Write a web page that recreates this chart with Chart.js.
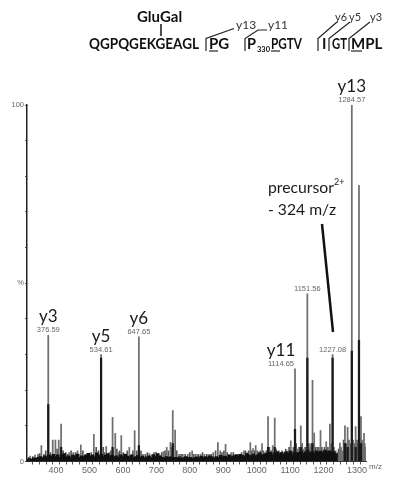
<!DOCTYPE html>
<html>
<head>
<meta charset="utf-8">
<script src="https://cdn.jsdelivr.net/npm/chart.js@4.4.1/dist/chart.umd.min.js"></script>
<style>
  html, body { margin: 0; padding: 0; background: #fff; }
  #wrap { position: relative; width: 393px; height: 478px; }
</style>
</head>
<body>
<div id="wrap"><canvas id="ms"></canvas></div>
<script>
// MS/MS fragment spectrum of the GluGal-modified peptide (relative intensity, %)
const peakMz = [322, 337, 346, 356, 364, 376.59, 390, 398, 408, 415, 429, 439, 451, 464, 474, 496, 513,
  534.61, 550, 559, 569, 577, 586, 595, 607, 619, 635, 647.65, 660, 679, 699, 712, 721, 731, 742, 749,
  756, 768, 779, 794, 807, 818, 832, 844, 858, 870, 884, 891, 907, 917, 924, 938, 949, 962, 971, 981,
  989, 997, 1007, 1016, 1025, 1034, 1041, 1048, 1054, 1061, 1071, 1082, 1092, 1102, 1107, 1114.65,
  1122, 1132, 1140, 1151.56, 1160, 1167, 1172, 1182, 1191, 1199, 1208, 1219, 1227.08, 1236, 1242,
  1249, 1256, 1264, 1272, 1279, 1284.57, 1290, 1296, 1306, 1312, 1317, 1321, 1325];
const peakIntensity = [1.5, 1.8, 2.0, 4.5, 2.0, 35.4, 6.0, 6.0, 6.0, 10.5, 2.5, 2.5, 2.5, 3.0, 4.7, 2.0, 7.6,
  30.0, 4.2, 2.5, 12.4, 7.9, 2.5, 7.3, 2.0, 4.0, 8.7, 35.0, 2.0, 2.2, 2.6, 1.8, 2.8, 4.0, 5.4, 14.3,
  8.8, 2.0, 2.0, 2.0, 3.0, 2.0, 2.0, 2.0, 2.0, 2.5, 5.3, 3.0, 4.8, 2.0, 2.5, 2.0, 2.0, 3.0, 2.5, 5.3,
  3.6, 4.5, 2.5, 5.0, 2.5, 12.6, 3.0, 4.5, 12.2, 2.5, 2.5, 2.5, 3.0, 5.8, 3.0, 26.0,
  3.5, 10.0, 3.5, 47.0, 4.0, 22.8, 8.0, 4.0, 8.7, 3.0, 5.5, 10.5, 30.0, 3.0, 2.5,
  5.2, 3.0, 10.0, 9.6, 4.0, 100.0, 4.0, 9.8, 77.5, 12.6, 5.0, 7.9, 4.0];

// weaker fragment and background signals
const minorMz = [318, 330, 351, 369, 383, 403, 421, 434, 445, 458, 468, 480, 487, 505, 520, 527, 541, 545,
  564, 582, 590, 601, 613, 626, 630, 641, 654, 667, 673, 688, 693, 705, 716, 726, 736, 746, 761, 774,
  786, 800, 812, 825, 838, 851, 864, 877, 896, 902, 912, 930, 944, 955, 966, 976, 985, 993, 1002, 1011,
  1020, 1029, 1038, 1044, 1058, 1066, 1076, 1087, 1097, 1110, 1118, 1127, 1136, 1145, 1156, 1163, 1177,
  1186, 1195, 1203, 1213, 1223, 1231, 1245, 1252, 1260, 1268, 1276, 1282, 1288, 1293, 1300, 1303, 1309,
  1315, 1319, 1323];
const minorIntensity = [1.2, 1.4, 2.2, 3.0, 2.5, 3.5, 3.0, 2.0, 3.0, 2.5, 2.0, 3.0, 2.0, 2.5, 4.0, 3.0, 4.0, 2.5,
  3.0, 3.5, 3.0, 2.5, 3.0, 2.0, 3.0, 3.0, 3.0, 2.0, 2.5, 2.0, 2.5, 2.0, 2.5, 3.0, 3.0, 4.0, 3.0, 2.0,
  2.0, 2.5, 2.0, 2.0, 2.5, 2.0, 2.0, 3.0, 2.5, 3.0, 2.5, 2.5, 2.0, 2.5, 3.0, 3.0, 3.0, 3.0, 3.0, 3.0,
  3.0, 3.0, 4.0, 3.0, 3.5, 3.0, 3.0, 3.5, 4.0, 4.0, 5.0, 4.0, 5.0, 4.0, 5.0, 5.0, 4.0,
  4.0, 4.0, 4.0, 4.0, 5.0, 4.0, 3.5, 4.0, 6.0, 5.0, 6.0, 5.0, 6.0, 5.0, 6.0, 5.0, 7.0,
  6.0, 5.0, 5.0];

// dense centroid cores of the strongest peaks
const coreMz = [376.59, 415, 534.61, 569, 647.65, 749, 1034, 1054, 1114.65, 1132, 1151.56, 1167,
  1227.08, 1264, 1272, 1284.57, 1296, 1306, 1312];
const coreIntensity = [16, 4, 29, 4, 4.5, 5, 4, 4, 9, 4, 29, 5, 29, 5, 4, 31, 4, 34, 5];

// chemical noise along the baseline, one reading every 6.5 m/z from 314
const noiseStart = 314;
const noiseStep = 6.5;
const noiseLevel = [0.6, 0.8, 0.7, 1.0, 0.9, 1.2, 1.4, 1.1, 1.6, 1.3, 1.8, 1.5, 2.0,
  1.4, 1.9, 1.2, 1.7, 2.2, 1.3, 1.6, 1.1, 1.8, 1.5, 2.1, 1.2, 1.6, 1.4,
  1.7, 2.3, 1.5, 1.9, 1.3, 2.4, 1.6, 2.0, 1.4, 1.8, 2.2, 1.5, 1.7, 1.3,
  1.6, 1.2, 1.9, 1.4, 2.1, 1.5, 1.3, 1.8, 1.1, 1.4, 1.7, 1.2, 1.5, 1.0,
  1.3, 1.6, 1.1, 1.9, 1.4, 2.2, 1.5, 1.2, 1.0, 1.4, 1.1, 1.3, 0.9, 1.2,
  1.0, 1.3, 0.9, 1.1, 1.4, 1.0, 1.2, 0.8, 1.1, 1.3, 1.0, 1.5, 1.2, 1.4,
  1.1, 1.6, 1.3, 1.0, 1.4, 1.2, 1.7, 1.3, 1.5, 1.1, 1.8, 1.4, 1.6, 1.9,
  1.5, 2.0, 1.7, 1.4, 2.2, 1.8, 1.5, 2.1, 1.6, 1.9, 2.4, 1.7, 2.0, 2.3,
  2.1, 2.6, 1.9, 2.4, 2.8, 2.2, 2.5, 2.0, 2.7, 2.3, 2.9, 2.1, 2.6, 2.4,
  2.5, 2.9, 2.2, 2.7, 3.1, 2.4, 2.8, 2.3, 3.0, 2.6, 2.9, 2.5, 3.2, 2.7, 3.0, 2.4, 2.8, 2.2];

// annotated fragment ions
const labelMz = [376.59, 534.61, 647.65, 1114.65, 1151.56, 1227.08, 1284.57];
const labelIon = ['y3', 'y5', 'y6', 'y11', '', '', 'y13'];
const labelShift = [0, 0, 0, -14, 0, 0, 0];

// axis tick labels
const xTickLabels = [400, 500, 600, 700, 800, 900, 1000, 1100, 1200, 1300];
const yTickLabels = { 0: '0', 50: '%', 100: '100' };

const toPoints = (xs, ys) => xs.map((x, i) => ({ x: x, y: ys[i] }));
const noisePoints = noiseLevel.map((v, i) => ({ x: noiseStart + i * noiseStep, y: v }));

const SANS = '"Liberation Sans", Arial, sans-serif';
const HUMAN = 'Lato, "Open Sans", sans-serif';

const annotations = {
  id: 'annotations',
  afterDraw(chart) {
    const ctx = chart.ctx;
    const xs = chart.scales.x, ys = chart.scales.y;
    ctx.save();

    // peak labels: ion name above the m/z value
    labelMz.forEach((mz, i) => {
      const h = peakIntensity[peakMz.indexOf(mz)];
      const px = xs.getPixelForValue(mz) + labelShift[i];
      const py = ys.getPixelForValue(h);
      ctx.textAlign = 'center';
      ctx.textBaseline = 'alphabetic';
      ctx.fillStyle = '#666';
      ctx.font = '7.5px ' + SANS;
      ctx.fillText(mz.toFixed(2), px, py - 3);
      if (labelIon[i]) {
        ctx.fillStyle = '#1a1a1a';
        ctx.font = '17px ' + HUMAN;
        ctx.fillText(labelIon[i], px, py - 13);
      }
    });

    // precursor annotation
    ctx.fillStyle = '#1a1a1a';
    ctx.textAlign = 'left';
    ctx.font = '16px ' + HUMAN;
    ctx.fillText('precursor', 268, 193, 66);
    ctx.font = '9px ' + HUMAN;
    ctx.fillText('2+', 334, 185);
    ctx.font = '16px ' + HUMAN;
    ctx.fillText('- 324 m/z', 268, 215, 68);
    ctx.strokeStyle = '#111';
    ctx.lineWidth = 2.5;
    ctx.beginPath();
    ctx.moveTo(322, 224);
    ctx.lineTo(333, 332);
    ctx.stroke();

    // m/z axis title
    ctx.fillStyle = '#666';
    ctx.font = '8px ' + SANS;
    ctx.textBaseline = 'middle';
    ctx.fillText('m/z', 369, 467);

    // peptide sequence header
    ctx.textBaseline = 'alphabetic';
    ctx.fillStyle = '#111';
    ctx.font = 'bold 15px ' + HUMAN;
    ctx.fillText('GluGal', 137, 22, 46);
    ctx.fillText('QGPQGEKGEAGL', 89, 48.5, 110);
    ctx.fillText('PG', 209, 48.5, 21);
    ctx.fillText('P', 247, 48.5, 9);
    ctx.fillText('PGTV', 271, 48.5, 31);
    ctx.fillText('I', 322, 48.5);
    ctx.fillText('GT', 332, 48.5, 15);
    ctx.fillText('MPL', 351, 48.5, 34);
    ctx.font = 'bold 8px ' + HUMAN;
    ctx.fillText('330', 257, 52, 13);

    ctx.font = '12px ' + HUMAN;
    ctx.fillStyle = '#333';
    ctx.fillText('y13', 236, 28.5, 22);
    ctx.fillText('y11', 268, 28.5, 20);
    ctx.fillText('y6', 335, 20.5, 12);
    ctx.fillText('y5', 349, 20.5, 12);
    ctx.fillText('y3', 370, 20.5, 12);

    ctx.strokeStyle = '#222';
    ctx.lineWidth = 1.2;
    const seg = (pts) => {
      ctx.beginPath();
      ctx.moveTo(pts[0][0], pts[0][1]);
      for (let k = 1; k < pts.length; k++) ctx.lineTo(pts[k][0], pts[k][1]);
      ctx.stroke();
    };
    seg([[206, 51], [206, 38.5], [234, 28.5]]);
    seg([[245, 51], [245, 38.5], [258, 30], [267, 30]]);
    seg([[318, 51], [318, 38.5], [337, 22]]);
    seg([[329, 51], [329, 38.5], [350, 22]]);
    seg([[349, 51], [349, 38.5], [370, 22]]);
    ctx.lineWidth = 1.6;
    seg([[161, 24], [161, 36]]);
    ctx.lineWidth = 1.2;
    seg([[209, 51], [218, 51]]);
    seg([[271, 51], [280, 51]]);
    seg([[351, 51], [362, 51]]);

    ctx.restore();
  }
};

new Chart(document.getElementById('ms'), {
  type: 'bar',
  data: {
    datasets: [
      { label: 'noise', data: noisePoints, backgroundColor: '#111', barThickness: 3, grouped: false, order: 1 },
      { label: 'core', data: toPoints(coreMz, coreIntensity), backgroundColor: '#1a1a1a', barThickness: 1.6, grouped: false, order: 2 },
      { label: 'peaks', data: toPoints(peakMz, peakIntensity), backgroundColor: '#707070', barThickness: 1.1, grouped: false, order: 3 },
      { label: 'minor', data: toPoints(minorMz, minorIntensity), backgroundColor: '#555', barThickness: 1, grouped: false, order: 4 }
    ]
  },
  options: {
    responsive: true,
    maintainAspectRatio: false,
    animation: false,
    layout: { padding: { left: 0, right: 27, top: 105, bottom: 0 } },
    plugins: { legend: { display: false }, tooltip: { enabled: false } },
    scales: {
      x: {
        type: 'linear',
        min: 313,
        max: 1327,
        offset: false,
        afterFit: (s) => { s.height = 16.5; },
        border: { display: true, color: '#333', width: 1 },
        grid: { display: true, drawOnChartArea: false, drawTicks: true, tickLength: 3, color: '#555' },
        ticks: {
          stepSize: 20,
          includeBounds: false,
          autoSkip: false,
          maxRotation: 0,
          padding: 1,
          color: '#666',
          font: { family: SANS, size: 9 },
          callback: (v) => (xTickLabels.includes(v) ? String(v) : '')
        }
      },
      y: {
        min: 0,
        max: 100,
        afterFit: (s) => { s.width = 27; },
        border: { display: true, color: '#222', width: 1.5 },
        grid: { display: true, drawOnChartArea: false, drawTicks: true, tickLength: 2, color: '#555' },
        ticks: {
          stepSize: 10,
          autoSkip: false,
          padding: 1,
          color: '#666',
          font: { family: SANS, size: 7.5 },
          callback: (v) => (v in yTickLabels ? yTickLabels[v] : '')
        }
      }
    }
  },
  plugins: [annotations]
});
</script>
</body>
</html>
